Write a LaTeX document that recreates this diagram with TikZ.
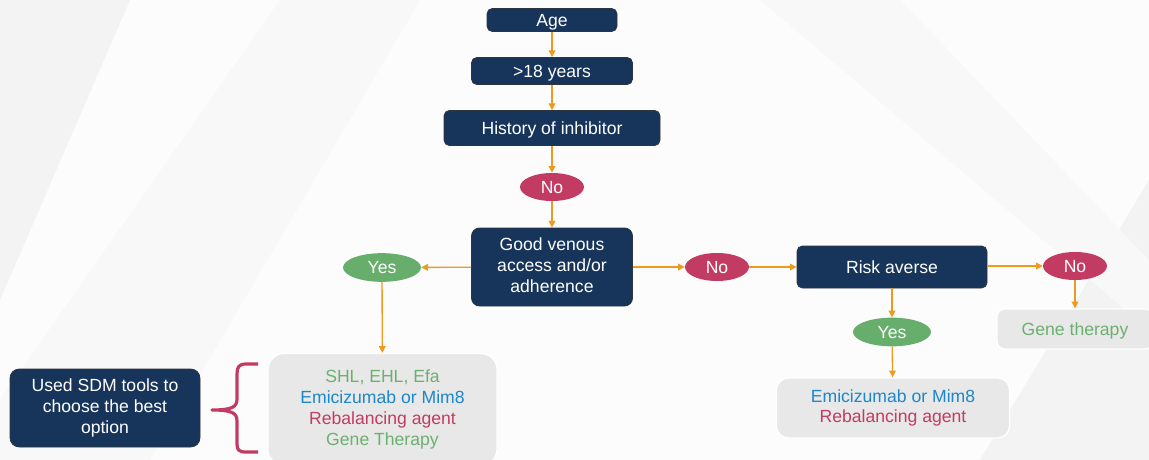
\documentclass[tikz,border=0pt]{standalone}
\usepackage{fontspec}
\setmainfont{Liberation Sans}
\usetikzlibrary{arrows.meta,shapes.geometric}
\definecolor{navy}{HTML}{17355A}
\definecolor{navyedge}{HTML}{2E3440}
\definecolor{mag}{HTML}{C23B62}
\definecolor{grn}{HTML}{67AD6C}
\definecolor{tgrn}{HTML}{6CB070}
\definecolor{tblue}{HTML}{1C87C9}
\definecolor{gbox}{HTML}{E8E8E8}
\definecolor{orng}{HTML}{EE9A1F}
\definecolor{bgA}{HTML}{FCFCFC}
\definecolor{bgB}{HTML}{F3F3F3}
\tikzset{
  navybox/.style={draw=navyedge, line width=0.6pt, fill=navy, text=white, rounded corners=4pt, align=center, inner sep=1pt},
  nobub/.style={ellipse, fill=mag, text=white, inner sep=0pt, minimum width=48pt, minimum height=21pt},
  yesbub/.style={ellipse, fill=grn, text=white, inner sep=0pt, minimum width=58.5pt, minimum height=21.5pt},
  graybox/.style={draw=white, line width=1pt, fill=gbox, rounded corners=9pt, align=center, inner sep=1pt},
  arr/.style={draw=orng, line width=1pt, -{Triangle[length=5pt,width=5pt]}},
  every node/.style={font=\fontsize{13.2}{15.6}\selectfont,
    execute at begin node={\rule{0pt}{0.9em}},
    execute at end node={\rule[-0.21em]{0pt}{0.21em}}},
  multiline/.style={execute at begin node={\rule{0pt}{1.45em}}}
}
\begin{document}
\begin{tikzpicture}[x=0.75pt,y=-0.75pt]
\useasboundingbox (0,0) rectangle (1149,460);
\fill[bgA] (0,0) rectangle (1149,460);
\fill[bgB] (0,0) -- (130,0) -- (0,300) -- cycle;
\fill[bgB!50!bgA] (280,0) -- (420,0) -- (150,460) -- (0,460) -- (0,400) -- cycle;
\fill[bgB] (1149,180) -- (1149,460) -- (980,460) -- cycle;
\fill[bgB!50!bgA] (760,0) -- (900,0) -- (1149,260) -- (1149,330) -- cycle;

\node[navybox, minimum width=97.5pt, minimum height=17.25pt] (age) at (552,20) {Age};
\node[navybox, minimum width=120.75pt, minimum height=20.25pt] (yrs) at (552,71) {>18 years};
\node[navybox, minimum width=162pt, minimum height=26.25pt] (hist) at (552,128) {History of inhibitor};
\node[nobub] (no1) at (552,187) {No};
\node[navybox, multiline, minimum width=120.75pt, minimum height=58.5pt, rounded corners=6pt] (good) at (552,267) {Good venous\\access and/or\\adherence};
\node[yesbub] (yesL) at (382,267.5) {Yes};
\node[nobub] (no2) at (717,267) {No};
\node[navybox, minimum width=142.5pt, minimum height=31.5pt] (risk) at (892,267) {Risk averse};
\node[nobub] (no3) at (1075,266) {No};
\node[yesbub] (yesR) at (892,332) {Yes};
\node[graybox, minimum width=117pt, minimum height=30pt, rounded corners=6pt, text=tgrn] (gene) at (1075,329) {Gene therapy};
\node[graybox, multiline, minimum width=174.75pt, minimum height=45pt] (emiR) at (893,408) {\textcolor{tblue}{Emicizumab or Mim8}\\\textcolor{mag}{Rebalancing agent}};
\node[graybox, minimum width=171.75pt, minimum height=84pt, rounded corners=12pt] (opts) at (382.5,409.5) {\textcolor{tgrn}{SHL, EHL, Efa}\\\textcolor{tblue}{Emicizumab or Mim8}\\\textcolor{mag}{Rebalancing agent}\\\textcolor{tgrn}{Gene Therapy}};
\node[navybox, multiline, minimum width=142.5pt, minimum height=58.5pt, rounded corners=7pt] (sdm) at (105,408) {Used SDM tools to\\choose the best\\option};

\draw[arr] (age) -- (yrs);
\draw[arr] (yrs) -- (hist);
\draw[arr] (hist) -- (no1);
\draw[arr] (no1) -- (good);
\draw[arr] (good) -- (yesL);
\draw[arr] (good) -- (no2);
\draw[arr] (no2) -- (risk);
\draw[arr] (risk.east |- no3) -- (no3);
\draw[arr] (risk) -- (yesR);
\draw[arr] (yesR) -- (emiR);
\draw[arr] (no3) -- (gene);
\draw[arr] (yesL) -- (opts);

\draw[mag, line width=2.4pt, line join=round] (258,364) -- (246,364) .. controls (239,364) and (237,367) .. (237,374) -- (237,399) .. controls (237,407) and (232,410) .. (212,410) .. controls (232,410) and (237,413) .. (237,421) -- (237,444) .. controls (237,450) and (239,452) .. (246,452) -- (258,452);
\end{tikzpicture}
\end{document}
